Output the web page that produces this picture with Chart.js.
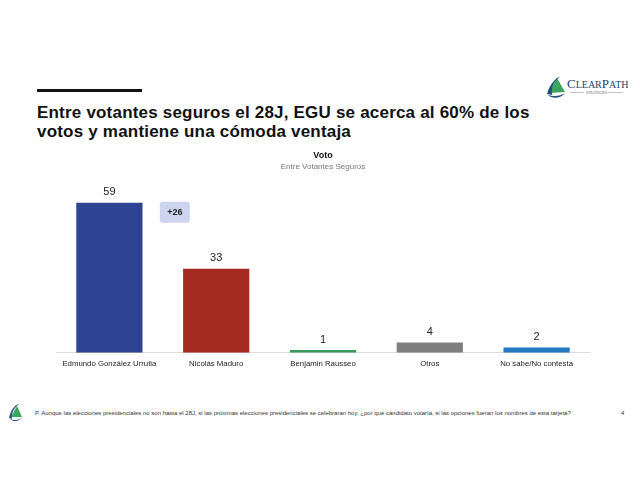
<!DOCTYPE html>
<html>
<head>
<meta charset="utf-8">
<script src="https://cdn.jsdelivr.net/npm/chart.js@4"></script>
<style>
  body { margin: 0; width: 640px; height: 494px; background: #fff; font-family: "Liberation Sans", Arial, sans-serif; position: relative; overflow: hidden; }
  #rule { position: absolute; left: 37px; top: 89px; width: 105px; height: 3px; background: #111; }
  #title { position: absolute; left: 37px; top: 103px; font-size: 17px; font-weight: bold; letter-spacing: 0.2px; line-height: 19px; color: #111; }
  #chartBox { position: absolute; left: 0; top: 144px; width: 640px; height: 232px; }
  #footer { position: absolute; left: 35px; top: 410px; font-size: 6px; color: #333; }
  #page { position: absolute; left: 621px; top: 410px; font-size: 6px; color: #333; }
  #logo { position: absolute; left: 545px; top: 73px; }
  #mini { position: absolute; left: 8px; top: 402px; }
</style>
</head>
<body>
<div id="rule"></div>
<div id="title">Entre votantes seguros el 28J, EGU se acerca al 60% de los<br>votos y mantiene una cómoda ventaja</div>

<svg id="logo" width="92" height="26" viewBox="0 0 92 26">
  <path d="M4 20 L12 5 L20 19 Z" fill="#3aa55c"/>
  <path d="M2 21 C5 10 12 4 15 4 C9 8 6 14 7 22 Z" fill="#1d4f7a"/>
  <path d="M3 22 C9 24 16 23 20 20 C15 26 7 26 3 22 Z" fill="#1d4f7a"/>
  <text x="22" y="15" font-family="Liberation Serif, serif" font-size="13" fill="#1d3f6a">C<tspan font-size="10">LEAR</tspan>P<tspan font-size="10">ATH</tspan></text>
  <line x1="25" y1="19.5" x2="39" y2="19.5" stroke="#888" stroke-width="0.5"/>
  <text x="41" y="21" font-family="Liberation Serif, serif" font-size="3.6" fill="#666">STRATEGIES</text>
  <line x1="63" y1="19.5" x2="78" y2="19.5" stroke="#888" stroke-width="0.5"/>
</svg>

<svg id="mini" width="16" height="20" viewBox="0 0 16 20">
  <path d="M3 15 L9 4 L14 15 Z" fill="#3aa55c"/>
  <path d="M1 16 C3 7 8 2 11 2 C6 6 3 11 4 17 Z" fill="#1d4f7a"/>
  <path d="M2 17 C7 19 12 18 15 15 C11 20 5 20 2 17 Z" fill="#1d4f7a"/>
</svg>

<div id="chartBox"><canvas id="votoChart"></canvas></div>

<div id="footer">P. Aunque las elecciones presidenciales no son hasta el 28J, si las próximas elecciones presidenciales se celebraran hoy, ¿por qué candidato votaría, si las opciones fueran los nombres de esta tarjeta?</div>
<div id="page">4</div>

<script>
const candidates = ["Edmundo González Urrutia", "Nicolás Maduro", "Benjamin Rausseo", "Otros", "No sabe/No contesta"];
const votes = [59, 33, 1, 4, 2];
const barColors = ["#2e4391", "#a52a1f", "#3a9a5b", "#7f7f7f", "#2378be"];
const leadLabel = "+26";

// value labels above each bar
const valueLabels = {
    id: "valueLabels",
    afterDatasetsDraw(chart) {
        const ctx = chart.ctx;
        const meta = chart.getDatasetMeta(0);
        ctx.save();
        ctx.font = "11px 'Liberation Sans', Arial, sans-serif";
        ctx.fillStyle = "#222";
        ctx.textAlign = "center";
        ctx.textBaseline = "bottom";
        meta.data.forEach((bar, i) => {
            ctx.fillText(votes[i], bar.x, bar.y - 5);
        });
        ctx.restore();
    }
};

// "+26" lead badge between the first two bars
const leadBadge = {
    id: "leadBadge",
    afterDatasetsDraw(chart) {
        const ctx = chart.ctx;
        const x = chart.scales.x;
        const y = chart.scales.y;
        const cx = (x.getPixelForValue(0) + x.getPixelForValue(1)) / 2 + 12;
        const top = y.getPixelForValue(votes[0]);
        const w = 30, h = 21;
        ctx.save();
        ctx.fillStyle = "#cdd4ee";
        ctx.beginPath();
        ctx.roundRect(cx - w / 2, top - 1, w, h, 3);
        ctx.fill();
        ctx.font = "bold 9px 'Liberation Sans', Arial, sans-serif";
        ctx.fillStyle = "#222";
        ctx.textAlign = "center";
        ctx.textBaseline = "middle";
        ctx.fillText(leadLabel, cx, top - 1 + h / 2);
        ctx.restore();
    }
};

const votoChart = new Chart(document.getElementById("votoChart"), {
    type: "bar",
    data: {
        labels: candidates,
        datasets: [{
            data: votes,
            backgroundColor: barColors,
            barPercentage: 0.62,
            categoryPercentage: 1,
        }],
    },
    options: {
        responsive: true,
        maintainAspectRatio: false,
        animation: false,
        layout: { padding: { left: 56, right: 50, top: 0, bottom: 0 } },
        plugins: {
            legend: { display: false },
            tooltip: { enabled: false },
            title: {
                display: true,
                text: "Voto",
                color: "#111",
                font: { size: 9, weight: "bold", family: "'Liberation Sans', Arial, sans-serif" },
                padding: { top: 6, bottom: 1 },
            },
            subtitle: {
                display: true,
                text: "Entre Votantes Seguros",
                color: "#777",
                font: { size: 8, family: "'Liberation Sans', Arial, sans-serif" },
                padding: { bottom: 16 },
            },
        },
        scales: {
            x: {
                grid: { display: false, drawTicks: false },
                border: { color: "#dddddd", width: 1 },
                ticks: {
                    color: "#222",
                    padding: 7,
                    font: { size: 7.8, family: "'Liberation Sans', Arial, sans-serif" },
                    maxRotation: 0,
                },
            },
            y: {
                display: false,
                min: 0,
                max: 65,
            },
        },
    },
    plugins: [valueLabels, leadBadge],
});
</script>
</body>
</html>
